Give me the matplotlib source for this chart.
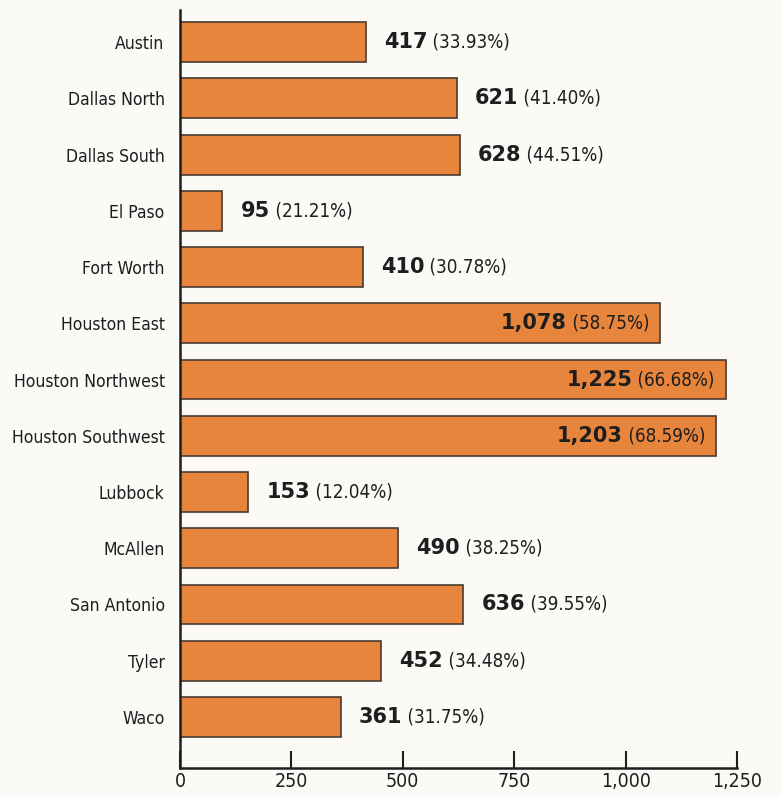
import matplotlib.pyplot as plt

ORANGE = '#E8853D'
EDGE = '#4a3a30'
INK = '#1e1e1e'
BG = '#FBFAF7'

regions = ['Austin', 'Dallas North', 'Dallas South', 'El Paso', 'Fort Worth',
           'Houston East', 'Houston Northwest', 'Houston Southwest', 'Lubbock',
           'McAllen', 'San Antonio', 'Tyler', 'Waco']
counts = [417, 621, 628, 95, 410, 1078, 1225, 1203, 153, 490, 636, 452, 361]
shares = [33.93, 41.40, 44.51, 21.21, 30.78, 58.75, 66.68, 68.59, 12.04,
          38.25, 39.55, 34.48, 31.75]
xticks = [0, 250, 500, 750, 1000, 1250]

plt.rcParams['font.family'] = ['DejaVu Sans']
COND = dict(fontstretch='condensed', color=INK)

fig = plt.figure(figsize=(7.81, 7.97), dpi=100, facecolor=BG)
ax = fig.add_axes([0.2305, 0.0364, 0.7132, 0.951])
ax.set_facecolor(BG)

ypos = list(range(len(regions)))
ax.barh(ypos, counts, height=0.71, color=ORANGE, edgecolor=EDGE, linewidth=1.2)

ax.set_xlim(0, 1250)
ax.set_ylim(len(regions) - 1 + 0.907, -0.569)

ax.set_yticks(ypos)
ax.set_yticklabels(regions, fontsize=12.6, **COND)
ax.tick_params(axis='y', length=0, pad=11)

ax.set_xticks(xticks)
ax.set_xticklabels([f'{t:,}' for t in xticks], fontsize=14, **COND)
ax.tick_params(axis='x', direction='in', length=12, width=1.5, color=INK, pad=3)

for s in ['top', 'right']:
    ax.spines[s].set_visible(False)
for s in ['left', 'bottom']:
    ax.spines[s].set_linewidth(1.8)
    ax.spines[s].set_color(INK)

for y, c, p in zip(ypos, counts, shares):
    num = f'{c:,}'
    pct = f' ({p:.2f}%)'
    if c > 1000:
        t2 = ax.annotate(pct, xy=(c, y), xytext=(-8, 0), textcoords='offset points',
                         ha='right', va='center', fontsize=13.5, **COND)
        ax.annotate(num, xy=(0, 0.5), xycoords=t2, ha='right', va='center',
                    fontsize=15, fontweight='heavy', color=INK)
    else:
        t1 = ax.annotate(num, xy=(c, y), xytext=(13, 0), textcoords='offset points',
                         ha='left', va='center', fontsize=15, fontweight='heavy',
                         color=INK)
        ax.annotate(pct, xy=(1, 0.5), xycoords=t1, ha='left', va='center',
                    fontsize=13.5, **COND)

fig.savefig('out.png', dpi=100, facecolor=BG)
